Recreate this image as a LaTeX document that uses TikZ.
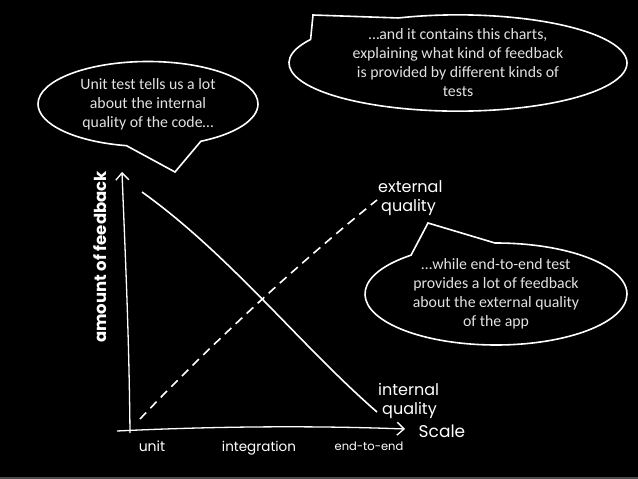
\documentclass[tikz,border=0pt]{standalone}
\usepackage{fontspec}
\setmainfont{Carlito}
\newfontfamily\hand{Poppins}
\usetikzlibrary{shapes.callouts,arrows.meta}
\definecolor{bubtext}{HTML}{E2E2E2}
\begin{document}
\begin{tikzpicture}[x=1pt,y=-1pt,
  bubble/.style={ellipse callout, draw=white, line width=1.6pt, fill=black,
    text=bubtext, align=center, inner sep=0pt,
    font=\fontsize{15.8}{19}\selectfont, callout pointer arc=40},
  handlabel/.style={text=white, inner sep=0pt, align=left,
    font=\hand\fontsize{16}{19}\selectfont},
  axisline/.style={draw=white, line width=1.3pt},
  curveline/.style={draw=white, line width=1.6pt},
  dashline/.style={curveline, dash pattern=on 9pt off 6pt},
  tip/.style={-{Straight Barb[length=7pt,width=13pt,line width=1.3pt]}}
]
\useasboundingbox (0,0) rectangle (638,479);
\fill[black] (0,0) rectangle (638,479);
\fill[black!70] (0,477) rectangle (638,479);

% callout pointers
\coordinate (t1) at (175,172);
\coordinate (t2) at (313,15);
\coordinate (t3) at (428,223);

\node[bubble, minimum width=220pt, minimum height=85pt, callout absolute pointer={(t1)}]
  (b1) at (148,104) {Unit test tells us a lot\\about the internal\\quality of the code…};
\node[bubble, minimum width=338pt, minimum height=86pt, callout absolute pointer={(t2)}]
  (b2) at (458,63) {…and it contains this charts,\\explaining what kind of feedback\\is provided by different kinds of\\tests};
\node[bubble, minimum width=262pt, minimum height=102pt, callout absolute pointer={(t3)}]
  (b3) at (496,294) {…while end-to-end test\\provides a lot of feedback\\about the external quality\\of the app};

% axes
\coordinate (ybot) at (130,433);
\coordinate (ytop) at (122,172);
\coordinate (xl) at (117,431);
\coordinate (xr) at (405,429);
\draw[axisline, tip] (ybot) .. controls (129,330) and (125,250) .. (ytop);
\draw[axisline, tip] (xl) .. controls (200,427) and (300,425) .. (xr);

% curves
\coordinate (s0) at (142,192);
\coordinate (s1) at (377,412);
\coordinate (d0) at (140,419);
\coordinate (d1) at (377,200);
\draw[curveline] (s0) .. controls (230,255) and (300,345) .. (s1);
\draw[dashline] (d0) .. controls (210,345) and (300,262) .. (d1);

% labels
\node[handlabel, font=\hand\bfseries\fontsize{16.5}{18}\selectfont, rotate=90] (ylab) at (100,257) {amount of feedback};
\node[handlabel, anchor=west] (ext) at (378,198) {external\\\hspace*{3pt}quality};
\node[handlabel, anchor=west] (int) at (378,401) {internal\\\hspace*{4pt}quality};
\node[handlabel, font=\hand\fontsize{17}{20}\selectfont] (scale) at (442,431) {Scale};
\node[handlabel, font=\hand\fontsize{14}{16}\selectfont] (unit) at (152,446) {unit};
\node[handlabel, font=\hand\fontsize{13.5}{16}\selectfont] (integ) at (259,448) {integration};
\node[handlabel, font=\hand\fontsize{11.5}{13}\selectfont] (e2e) at (369,446) {end-to-end};
\end{tikzpicture}
\end{document}
